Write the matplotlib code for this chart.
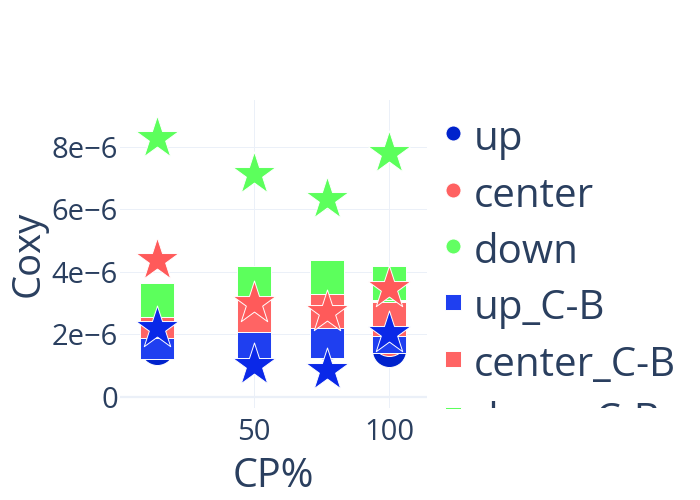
import matplotlib
matplotlib.use('Agg')
import matplotlib.pyplot as plt
from matplotlib.ticker import FuncFormatter

# data
cp = [14, 50, 77, 100]

up = [1.56e-6, 1.76e-6, 1.72e-6, 1.49e-6]
center = [2.30e-6, 2.50e-6, 2.60e-6, 1.85e-6]
down = [3.00e-6, 3.50e-6, 3.70e-6, 3.50e-6]
up_cb = [1.74e-6, 1.77e-6, 1.77e-6, 1.93e-6]
center_cb = [2.43e-6, 2.60e-6, 2.73e-6, 2.49e-6]
down_cb = [3.10e-6, 3.65e-6, 3.83e-6, 3.65e-6]
up_ref = [2.21e-6, 1.02e-6, 0.86e-6, 2.05e-6]
center_ref = [4.37e-6, 2.99e-6, 2.72e-6, 3.49e-6]
down_ref = [8.29e-6, 7.12e-6, 6.32e-6, 7.79e-6]

names = ['up', 'center', 'down', 'up_C-B', 'center_C-B', 'down_C-B',
         'up_ref', 'center_ref', 'down_ref']
series = [up, center, down, up_cb, center_cb, down_cb, up_ref, center_ref, down_ref]
markers = ['o', 'o', 'o', 's', 's', 's', '*', '*', '*']
colors = ['#0022cc', '#ff6161', '#62ff62',
          '#1f3ff0', '#ff6464', '#5cff5c',
          '#0a28e8', '#ff5a5a', '#5cff5c']
sizes = [600, 600, 600, 600, 600, 600, 1050, 1050, 1050]

plt.rcParams['font.family'] = ['Open Sans', 'DejaVu Sans']
txt = '#2a3f5f'
grid = '#ebf0f8'

W, H = 700, 500
fig = plt.figure(figsize=(7, 5), dpi=100)

# main plot area in pixels: x 120..427, y 100..408
ax = fig.add_axes([120 / W, 1 - 408 / H, 307 / W, 308 / H])
for i in range(len(series)):
    ax.scatter(cp, series[i], marker=markers[i], s=sizes[i], c=colors[i],
               edgecolors='white', linewidths=0.7, zorder=3 + i)

ax.set_xlim(0.26, 114)
ax.set_ylim(-0.36e-6, 9.49e-6)
ax.set_xticks([50, 100])
ax.set_yticks([0, 2e-6, 4e-6, 6e-6, 8e-6])
ax.yaxis.set_major_formatter(FuncFormatter(
    lambda v, p: '0' if abs(v) < 1e-12 else f'{int(round(v * 1e6))}e\u22126'))
ax.tick_params(length=0, labelsize=21, colors=txt)
ax.tick_params(axis='x', pad=7)
ax.tick_params(axis='y', pad=1.5)
ax.grid(True, color=grid, linewidth=0.72, zorder=0)
ax.axhline(0, color=grid, linewidth=1.6, zorder=1)
ax.set_axisbelow(True)
for s in ax.spines.values():
    s.set_visible(False)

fig.text(273.5 / W, 1 - 487 / H, 'CP%', ha='center', va='baseline',
         fontsize=28.5, color=txt)
fig.text(10 / W, 1 - 254 / H, 'Coxy', ha='left', va='center', rotation=90,
         fontsize=27.5, color=txt)

# legend, clipped at the bottom like the reference
lax = fig.add_axes([430 / W, 1 - 408 / H, 270 / W, 308 / H])
lax.set_xlim(430, 700)
lax.set_ylim(408, 100)
lax.axis('off')
for i in range(len(names)):
    y = 133.3 + i * 56.3
    lax.scatter([452.7], [y], marker=markers[i],
                s=117 if markers[i] != '*' else 200, c=colors[i],
                edgecolors='white', linewidths=0.7)
    lax.text(474, y + 17, names[i], ha='left', va='baseline', fontsize=29,
             color=txt, clip_on=True)

fig.savefig('out.png', dpi=100)
